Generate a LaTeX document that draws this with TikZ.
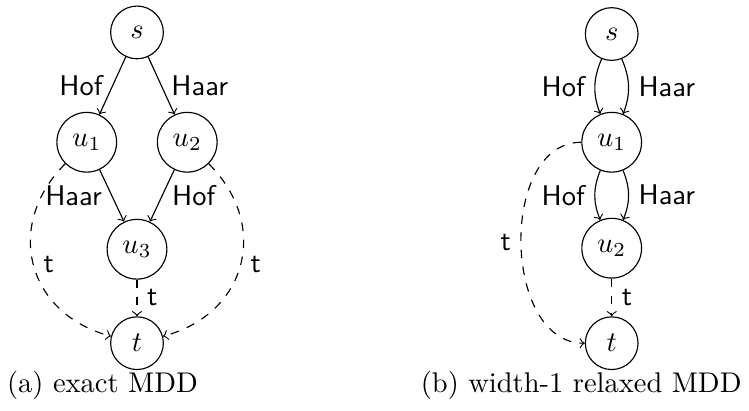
\documentclass[tikz,border=0pt]{standalone}
\usepackage{tikz}
\usepackage{amsmath}
\usetikzlibrary{positioning}

\begin{document}
\begin{tikzpicture}[-,node distance=1cm,
                    main node/.style={circle,draw,minimum size=0.65cm,inner sep=3.33pt},
                    arc label/.style={font=\sffamily}]
\useasboundingbox (0,0) rectangle (9.24,5.06);

% (a) exact MDD
\node[main node] (sA)  at (1.69,4.66)  {$s$};
\node[main node] (u1A) at (1.07,3.305) {$u_1$};
\node[main node] (u2A) at (2.31,3.305) {$u_2$};
\node[main node] (u3A) at (1.69,1.985) {$u_3$};
\node[main node] (tA)  at (1.69,0.826) {$t$};

\draw[->] (sA) -- node[arc label,left] {Hof} (u1A);
\draw[->] (sA) -- node[arc label,right] {Haar} (u2A);
\draw[->] (u1A) -- node[arc label,left] {Haar} (u3A);
\draw[->] (u2A) -- node[arc label,right] {Hof} (u3A);
\draw[->,dashed] (u3A) -- node[arc label,right] {t} (tA);
\draw[->,dashed] (u1A) to[out=225,in=165,looseness=1.25] node[arc label,right] {t} (tA);
\draw[->,dashed] (u2A) to[out=-45,in=15,looseness=1.25] node[arc label,right] {t} (tA);

\node (CaptionA) at (1.264,0.308) {(a) exact MDD};

% (b) width-1 relaxed MDD
\node[main node] (sB)  at (7.546,4.64)  {$s$};
\node[main node] (u1B) at (7.546,3.305) {$u_1$};
\node[main node] (u2B) at (7.546,1.998) {$u_2$};
\node[main node] (tB)  at (7.546,0.826) {$t$};

\draw[->] (sB) to[bend right=22] node[arc label,left] {Hof} (u1B);
\draw[->] (sB) to[bend left=22] node[arc label,right] {Haar} (u1B);
\draw[->] (u1B) to[bend right=22] node[arc label,left] {Hof} (u2B);
\draw[->] (u1B) to[bend left=22] node[arc label,right] {Haar} (u2B);
\draw[->,dashed] (u2B) -- node[arc label,right] {t} (tB);
\draw[->,dashed] (u1B) to[out=180,in=180,looseness=1.05] node[arc label,left] {t} (tB);

\node (CaptionB) at (7.17,0.308) {(b) width-1 relaxed MDD};
\end{tikzpicture}
\end{document}
